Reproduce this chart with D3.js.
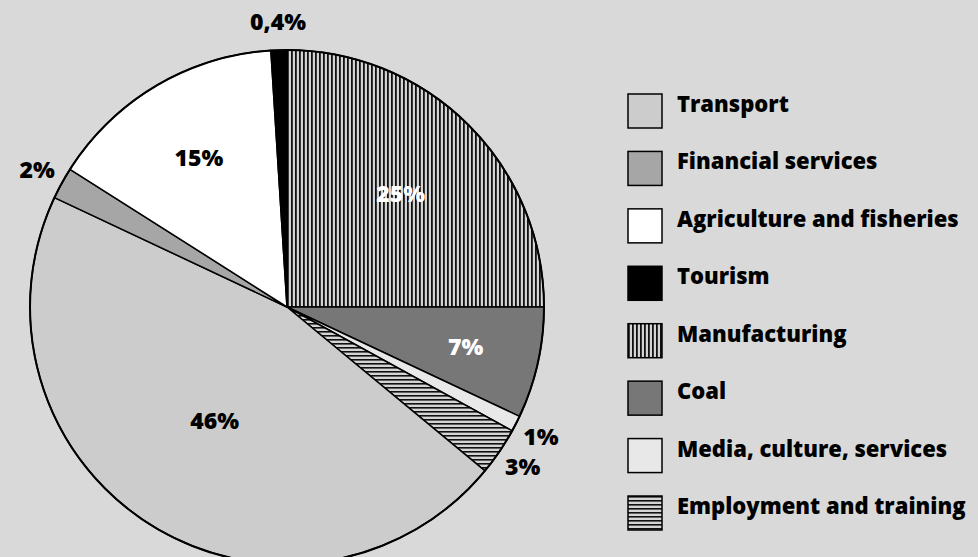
<!DOCTYPE html>
<html>
<head>
<meta charset="utf-8">
<script src="https://cdn.jsdelivr.net/npm/d3@7"></script>
<style>
  body { margin: 0; background: #d9d9d9; }
  text { font-family: "Open Sans", sans-serif; font-weight: 800; }
</style>
</head>
<body>
<div id="chart"></div>
<script>
// Sectors, clockwise from 12 o'clock
const sectors = ['Manufacturing', 'Coal', 'Media, culture, services', 'Employment and training',
  'Transport', 'Financial services', 'Agriculture and fisheries', 'Tourism']
const shares = [25, 7, 1, 3, 46, 2, 15, 1]
const shareLabels = ['25%', '7%', '1%', '3%', '46%', '2%', '15%', '0,4%']

// Legend order (top to bottom)
const legendItems = ['Transport', 'Financial services', 'Agriculture and fisheries', 'Tourism',
  'Manufacturing', 'Coal', 'Media, culture, services', 'Employment and training']

const W = 978
const H = 557
const R = 257
const CX = 287
const CY = 307

const fills = {
  'Transport': '#cccccc',
  'Financial services': '#a6a6a6',
  'Agriculture and fisheries': '#ffffff',
  'Tourism': '#000000',
  'Manufacturing': 'url(#vlines)',
  'Coal': '#777777',
  'Media, culture, services': '#e8e8e8',
  'Employment and training': 'url(#hlines)'
}
const whiteLabels = ['Manufacturing', 'Coal']

const svg = d3.select('#chart')
  .append('svg')
  .attr('width', W)
  .attr('height', H)

// Hatch patterns
const defs = svg.append('defs')
const vp = defs.append('pattern')
  .attr('id', 'vlines')
  .attr('patternUnits', 'userSpaceOnUse')
  .attr('width', 4).attr('height', 4)
vp.append('rect').attr('width', 4).attr('height', 4).attr('fill', '#d4d4d4')
vp.append('rect').attr('x', 0).attr('width', 1.8).attr('height', 4).attr('fill', '#111')

const hp = defs.append('pattern')
  .attr('id', 'hlines')
  .attr('patternUnits', 'userSpaceOnUse')
  .attr('width', 4).attr('height', 4)
hp.append('rect').attr('width', 4).attr('height', 4).attr('fill', '#d4d4d4')
hp.append('rect').attr('y', 0).attr('width', 4).attr('height', 1.6).attr('fill', '#111')

const data = sectors.map((s, i) => ({ sector: s, value: shares[i], label: shareLabels[i] }))

const pie = d3.pie()
  .sort(null)
  .value(d => d.value)

const arcs = pie(data)
const arc = d3.arc().innerRadius(0).outerRadius(R)

// big slices get their label nearer the centre
const labelR = d3.scaleLinear().domain([7, 46]).range([183, 135])
const labelPos = d => {
  const r = d.data.value < 5 ? 285 : labelR(d.data.value)
  return d3.arc().innerRadius(r).outerRadius(r).centroid(d)
}

const g = svg.append('g').attr('transform', `translate(${CX},${CY})`)

g.selectAll('path.slice')
  .data(arcs)
  .enter()
  .append('path')
  .attr('class', 'slice')
  .attr('d', arc)
  .attr('fill', d => fills[d.data.sector])
  .attr('stroke', '#000')
  .attr('stroke-width', 1.5)
  .attr('stroke-linejoin', 'round')

g.append('circle')
  .attr('r', R)
  .attr('fill', 'none')
  .attr('stroke', '#000')
  .attr('stroke-width', 2)

g.selectAll('text.pct')
  .data(arcs)
  .enter()
  .append('text')
  .attr('class', 'pct')
  .attr('transform', d => `translate(${labelPos(d)})`)
  .attr('text-anchor', 'middle')
  .attr('dy', '0.36em')
  .attr('font-size', 23)
  .attr('fill', d => (d.data.value >= 5 && whiteLabels.includes(d.data.sector)) ? '#fff' : '#000')
  .text(d => d.data.label)

// Legend
const legendY = d3.scalePoint()
  .domain(legendItems)
  .range([94, 496])

const legend = svg.selectAll('g.legend')
  .data(legendItems)
  .enter()
  .append('g')
  .attr('class', 'legend')
  .attr('transform', d => `translate(628,${legendY(d)})`)

legend.append('rect')
  .attr('width', 34)
  .attr('height', 34)
  .attr('fill', d => fills[d])
  .attr('stroke', '#000')
  .attr('stroke-width', 1.5)

legend.append('text')
  .attr('x', 49)
  .attr('y', 18)
  .attr('font-size', 22)
  .attr('fill', '#000')
  .text(d => d)
</script>
</body>
</html>
